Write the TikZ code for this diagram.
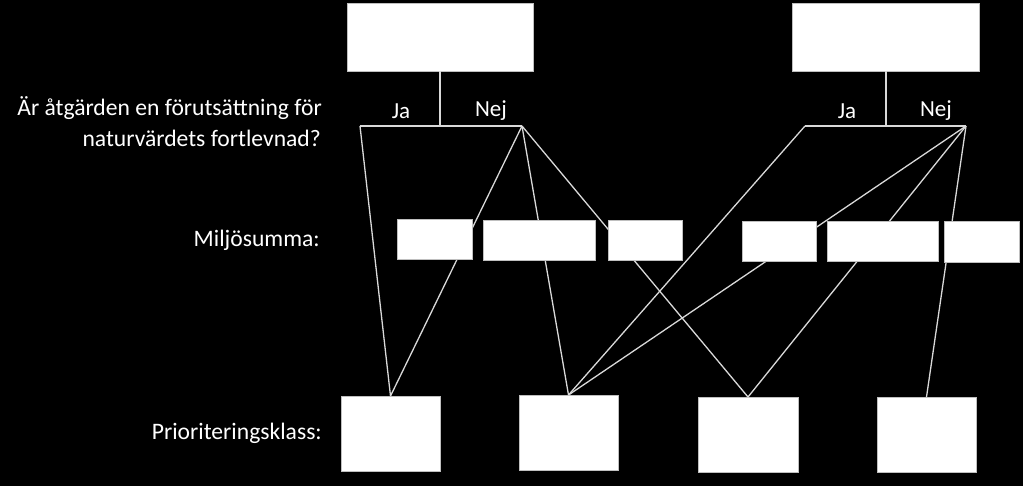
\documentclass[tikz,border=0pt]{standalone}
\usepackage{fontspec}
\setmainfont{Carlito}
\begin{document}
\begin{tikzpicture}[x=1pt,y=-1pt,
  box/.style={fill=white,draw=black!25,line width=0.8pt,inner sep=0pt,outer sep=0pt},
  link/.style={draw=black!15,line width=1.3pt},
  lbl/.style={text=white,font=\fontsize{23.6}{28}\selectfont,inner sep=0pt},
  yn/.style={text=white,font=\fontsize{23}{28}\selectfont,inner sep=0pt}]
\fill[black] (0,0) rectangle (1023,486);
\useasboundingbox (0,0) rectangle (1023,486);
% labels
\node[lbl,anchor=east,align=right] (q1) at (322,108) {Är åtgärden en förutsättning för};
\node[lbl,anchor=east,align=right] (q2) at (321,138) {naturvärdets fortlevnad?};
\node[lbl,anchor=east] (ms) at (320,240) {Miljösumma:};
\node[lbl,anchor=east] (pk) at (322,433) {Prioriteringsklass:};
% top boxes
\node[box,minimum width=186pt,minimum height=68pt] (T1) at (440,37) {};
\node[box,minimum width=187pt,minimum height=68pt] (T2) at (886,37) {};
% bottom boxes
\node[box,minimum width=99pt,minimum height=75pt] (B1) at (390.5,433.5) {};
\node[box,minimum width=99pt,minimum height=75pt] (B2) at (568.5,432.5) {};
\node[box,minimum width=100pt,minimum height=75pt] (B3) at (748,434.5) {};
\node[box,minimum width=99pt,minimum height=75pt] (B4) at (926.5,434.5) {};
% branch points
\coordinate (J1) at (360,126);
\coordinate (N1) at (522,126);
\coordinate (J2) at (805,126);
\coordinate (N2) at (966,126);
\node[yn] (ja1) at (401,111) {Ja};
\node[yn] (nej1) at (491,111) {Nej};
\node[yn] (ja2) at (847,111) {Ja};
\node[yn] (nej2) at (936,111) {Nej};
% stems and bars
\draw[link] (T1.south) -- (T1.south |- J1);
\draw[link] (J1) -- (N1);
\draw[link] (T2.south) -- (T2.south |- J2);
\draw[link] (J2) -- (N2);
% connectors
\draw[link] (J1) -- (B1.north);
\draw[link] (N1) -- (B1.north);
\draw[link] (N1) -- (B2.north);
\draw[link] (N1) -- (B3.north);
\draw[link] (J2) -- (B2.north);
\draw[link] (N2) -- (B2.north);
\draw[link] (N2) -- (B3.north);
\draw[link] (N2) -- (B4.north);
% middle boxes
\node[box,minimum width=75pt,minimum height=40pt] (M1) at (434.5,239) {};
\node[box,minimum width=112pt,minimum height=40pt] (M2) at (539,240) {};
\node[box,minimum width=74pt,minimum height=40pt] (M3) at (645,240) {};
\node[box,minimum width=74pt,minimum height=40pt] (M4) at (779,241) {};
\node[box,minimum width=111pt,minimum height=40pt] (M5) at (882.5,241) {};
\node[box,minimum width=75pt,minimum height=41pt] (M6) at (981.5,241.5) {};
\end{tikzpicture}
\end{document}
